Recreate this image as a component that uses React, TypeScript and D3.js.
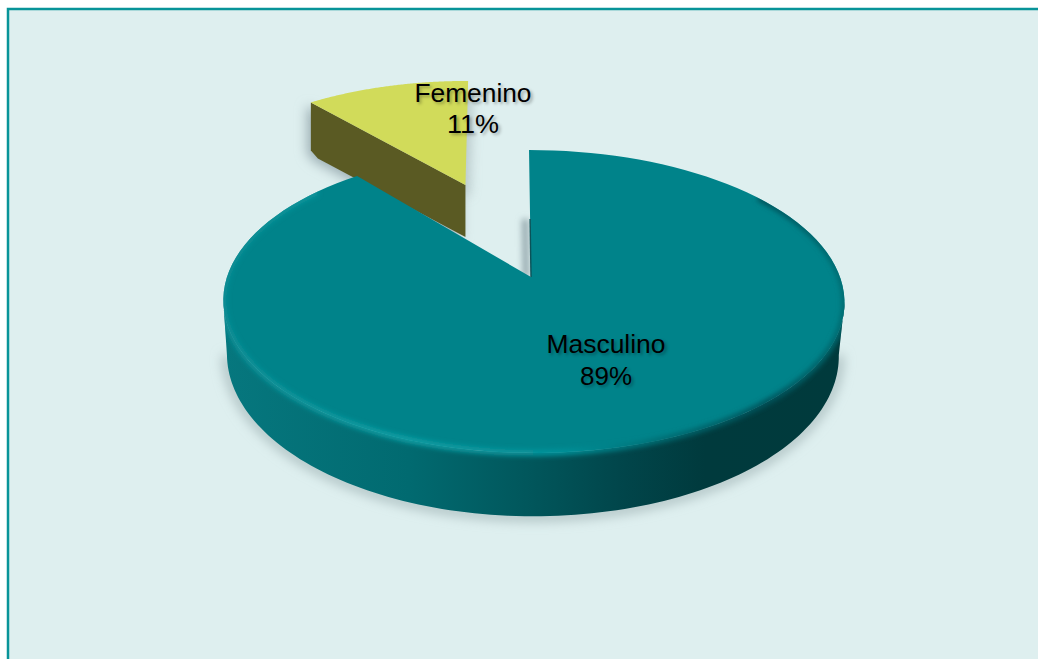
import React from 'react';
import * as d3 from 'd3';

const categories = ['Masculino', 'Femenino'];
const values = [89, 11];
const percentLabels = ['89%', '11%'];
const topColours = ['#00838a', '#d1db5a'];
// how far each slice is pulled out of the pie (in radii)
const explode = [0, 0.737];
// small per slice corrections for the picture's perspective
const skewX = [-2.3, -8.5];
const shiftX = [0, 8];

const width = 1038;
const height = 659;

// the pie is drawn in perspective, so the tip is not the centre of the ellipse
const tipX = 531;
const tipY = 277;
const scaleLeft = 304;
const scaleRight = 309;
const scaleY = 147.5;
const persp = 0.1617;
const depth = 52;

const project = (u: number, v: number, i: number, bottom = false): [number, number] => {
  const w = 1 + persp * v;
  const b = u < 0 ? scaleLeft : scaleRight;
  const x = tipX + shiftX[i] + (b * u + skewX[i] * v) / w;
  if (bottom) {
    return [x - 1 + (b * -0.015 * u) / w, tipY + depth - (157 * v) / w];
  }
  return [x, tipY - (scaleY * v) / w];
};

const App: React.FC = () => {
  const slices = d3.pie<number>().sort(null)(values);
  const line = d3.line();

  const offsetOf = (i: number) => {
    const mid = (slices[i].startAngle + slices[i].endAngle) / 2;
    return [explode[i] * Math.sin(mid), explode[i] * Math.cos(mid)];
  };

  const arcPoints = (a0: number, a1: number, i: number, bottom = false) => {
    const [ou, ov] = offsetOf(i);
    const n = 120;
    return d3.range(n + 1).map(k => {
      const a = a0 + ((a1 - a0) * k) / n;
      return project(ou + Math.sin(a), ov + Math.cos(a), i, bottom);
    });
  };

  const wedge = (i: number) => {
    const [ou, ov] = offsetOf(i);
    const s = slices[i];
    return line([project(ou, ov, i), ...arcPoints(s.startAngle, s.endAngle, i)]) + 'Z';
  };

  // outer wall of the big slice, between the two silhouette points
  const silhouette = Math.acos(-persp);
  const mainWall =
    line([
      ...arcPoints(silhouette, 2 * Math.PI - silhouette, 0),
      ...arcPoints(silhouette, 2 * Math.PI - silhouette, 0, true).reverse(),
    ]) + 'Z';
  const mainBase = line(arcPoints(silhouette, 2 * Math.PI - silhouette, 0, true));
  const mainRim = line(arcPoints(Math.PI * 0.3, Math.PI * 1.72, 0));

  // cut face of the small slice
  const [fu, fv] = offsetOf(1);
  const cutAngle = slices[1].startAngle;
  const cornerTop = project(fu + Math.sin(cutAngle), fv + Math.cos(cutAngle), 1);
  const tipTop = project(fu, fv, 1);
  const cutFace =
    line([
      tipTop,
      cornerTop,
      [cornerTop[0], cornerTop[1] + 48],
      [cornerTop[0] + 7, cornerTop[1] + 56],
      [tipTop[0], tipTop[1] + 52],
    ]) + 'Z';

  const cutEdge = line([project(0, 0, 0), project(0, 0.42, 0)]);

  const labels = [
    { x: 606, y: 353, y2: 385, w: 119, w2: 52 },
    { x: 473, y: 102, y2: 133, w: 117, w2: 52 },
  ];

  return (
    <svg
      width={width}
      height={height}
      style={{ position: 'absolute', left: 0, top: 0, background: '#fff' }}
    >
      <defs>
        <linearGradient id="wallGrad" gradientUnits="userSpaceOnUse" x1={225} x2={840} y1={0} y2={0}>
          <stop offset="0" stopColor="#06777e" />
          <stop offset="0.3" stopColor="#016a70" />
          <stop offset="0.5" stopColor="#01565b" />
          <stop offset="0.65" stopColor="#01454a" />
          <stop offset="0.78" stopColor="#003a3d" />
          <stop offset="1" stopColor="#003a3c" />
        </linearGradient>
        <linearGradient id="rimGrad" gradientUnits="userSpaceOnUse" x1={225} x2={840} y1={0} y2={0}>
          <stop offset="0" stopColor="#0b8f96" />
          <stop offset="0.3" stopColor="#11a0a6" />
          <stop offset="0.55" stopColor="#04929a" />
          <stop offset="0.72" stopColor="#006a70" />
          <stop offset="0.88" stopColor="#00525a" />
          <stop offset="1" stopColor="#006a70" />
        </linearGradient>
        <filter id="soft" filterUnits="userSpaceOnUse" x={0} y={0} width={width} height={height}>
          <feGaussianBlur stdDeviation="6" />
        </filter>
        <filter id="softThin" filterUnits="userSpaceOnUse" x={0} y={0} width={width} height={height}>
          <feGaussianBlur stdDeviation="3" />
        </filter>
        <filter id="rimBlur" filterUnits="userSpaceOnUse" x={0} y={0} width={width} height={height}>
          <feGaussianBlur stdDeviation="2.4" />
        </filter>
        <clipPath id="mainClip">
          <path d={wedge(0)} />
          <path d={mainWall} />
        </clipPath>
      </defs>

      <rect x={8} y={9} width={1040} height={660} fill="#deefef" stroke="#089499" strokeWidth={2.5} />

      {/* shadows */}
      <path d={mainBase ?? ''} fill="none" stroke="#a9bcbd" strokeWidth={9} filter="url(#soft)" />
      <path d={cutFace} fill="#9fb1b6" filter="url(#soft)" transform="translate(-4,3)" />
      <path d={wedge(1)} fill="#a7b7b9" filter="url(#soft)" transform="translate(4,12)" opacity={0.7} />
      <path d={cutEdge ?? ''} fill="none" stroke="#8fa3a8" strokeWidth={6} filter="url(#softThin)" transform="translate(-5,0)" />

      {/* small slice */}
      <path d={cutFace} fill="#5a5a23" />
      <path d={wedge(1)} fill={topColours[1]} />

      {/* big slice */}
      <path d={mainWall} fill="url(#wallGrad)" />
      <path d={wedge(0)} fill={topColours[0]} />
      <path d={cutEdge ?? ''} fill="none" stroke="#0b5258" strokeWidth={1.4} />
      <g clipPath="url(#mainClip)">
        <path d={mainRim ?? ''} fill="none" stroke="url(#rimGrad)" strokeWidth={6} filter="url(#rimBlur)" />
      </g>

      {/* labels */}
      {categories.map((c, i) => (
        <g
          key={c}
          fontFamily="Liberation Sans"
          fontSize={25}
          textAnchor="middle"
          fill="#000"
          style={{ textShadow: '2px 2px 3px rgba(0,0,0,0.3)' }}
        >
          <text x={labels[i].x} y={labels[i].y} textLength={labels[i].w} lengthAdjust="spacingAndGlyphs">
            {c}
          </text>
          <text x={labels[i].x} y={labels[i].y2} textLength={labels[i].w2} lengthAdjust="spacingAndGlyphs">
            {percentLabels[i]}
          </text>
        </g>
      ))}
    </svg>
  );
};

export default App;
